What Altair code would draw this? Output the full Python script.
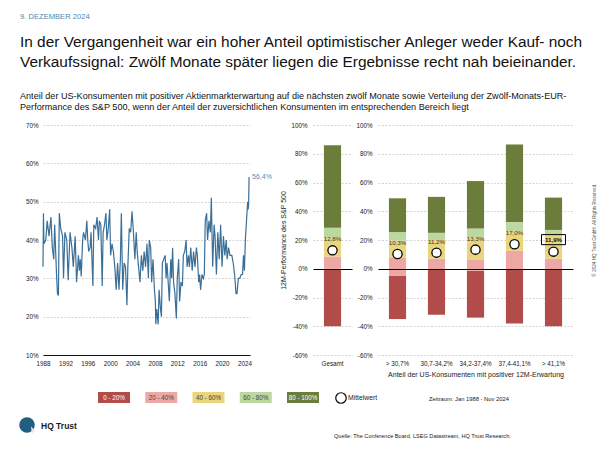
import altair as alt
import pandas as pd

FONT = "Liberation Sans"

# ---------------- data ----------------
line_months = [
    "1988-01", "1988-02", "1988-03", "1988-07", "1988-10", "1989-02", "1989-06", "1989-09", "1989-12",
    "1990-02", "1990-06", "1990-08", "1990-10", "1990-12", "1991-03", "1991-07", "1991-09", "1991-12",
    "1992-04", "1992-07", "1992-11", "1993-03", "1993-06", "1993-10", "1994-01", "1994-05", "1994-07",
    "1994-09", "1994-11", "1995-02", "1995-04", "1995-08", "1995-11", "1996-01", "1996-03", "1996-06",
    "1996-08", "1996-12", "1997-02", "1997-06", "1997-09", "1997-12", "1998-02", "1998-05", "1998-08",
    "1998-10", "1999-01", "1999-04", "1999-06", "1999-09", "1999-12", "2000-02", "2000-05", "2000-08",
    "2000-11", "2001-02", "2001-05", "2001-08", "2001-11", "2002-01", "2002-04", "2002-07", "2002-10",
    "2003-01", "2003-03", "2003-06", "2003-09", "2003-12", "2004-03", "2004-06", "2004-09", "2004-11",
    "2005-02", "2005-05", "2005-08", "2005-11", "2006-02", "2006-05", "2006-08", "2006-11", "2007-01",
    "2007-04", "2007-06", "2007-09", "2007-12", "2008-02", "2008-03", "2008-05", "2008-08", "2008-10",
    "2009-01", "2009-03", "2009-05", "2009-08", "2009-11", "2010-01", "2010-03", "2010-06", "2010-08",
    "2010-11", "2011-01", "2011-03", "2011-05", "2011-08", "2011-11", "2012-01", "2012-04", "2012-06",
    "2012-09", "2012-12", "2013-02", "2013-05", "2013-08", "2013-10", "2014-01", "2014-03", "2014-06",
    "2014-09", "2014-12", "2015-03", "2015-06", "2015-08", "2015-11", "2016-01", "2016-03", "2016-06",
    "2016-09", "2016-11", "2017-01", "2017-04", "2017-06", "2017-09", "2017-12", "2018-02", "2018-05",
    "2018-08", "2018-10", "2019-01", "2019-04", "2019-07", "2019-10", "2020-01", "2020-04", "2020-07",
    "2020-10", "2020-12", "2021-03", "2021-06", "2021-10", "2022-01", "2022-04", "2022-07", "2022-09",
    "2022-12", "2023-03", "2023-06", "2023-09", "2023-11", "2024-01", "2024-03", "2024-06", "2024-08",
    "2024-09", "2024-10", "2024-11",
]
line_values = [
    33, 47, 39, 40, 45, 41, 46, 38, 35,
    44, 31, 26, 25.5, 47, 43, 41, 30, 42,
    40, 29.5, 42, 38, 33, 41, 29, 36, 32,
    35, 30.5, 40, 42, 40, 45, 40, 37, 38,
    42, 28, 44, 43, 46, 40, 45, 44, 28,
    42, 44, 47, 40, 43, 48, 36, 39, 37,
    33, 27, 34, 27, 35, 47, 27, 34, 33,
    23, 33, 43, 42, 47.5, 42, 35, 42, 37,
    33, 29, 36, 32, 37, 33, 39, 30, 40,
    38, 29, 35, 27, 24, 18, 22, 18, 27,
    22, 20, 34, 35, 36, 30, 34, 28, 24,
    35, 30, 38, 29, 26, 19.5, 30, 35, 24,
    29, 28, 36, 37, 40, 33, 36, 33, 38,
    32, 37, 33, 38, 36, 29, 31, 27, 31,
    30, 31, 45, 47, 40, 45, 42, 51, 33,
    44, 41, 31, 42, 35, 44, 33, 41, 36,
    40, 35, 38, 36, 36, 34, 31, 26, 26,
    30, 30, 31, 31, 36, 32, 40, 46, 50,
    48, 49, 56.4,
]
year_ticks = [1988, 1992, 1996, 2000, 2004, 2008, 2012, 2016, 2020, 2024]
share_ticks = [10, 20, 30, 40, 50, 60, 70]

categories = ["Gesamt", "> 30,7%", "30,7-34,2%", "34,2-37,4%", "37,4-41,1%", "> 41,1%"]
perf_min = [-40, -35, -32, -34, -38, -40]
perf_q20 = [0, -5, -0.5, -1.5, -0.5, -0.5]
perf_q40 = [8.5, 7.5, 7, 6.5, 12.5, 7]
perf_q60 = [22, 19.5, 20, 22, 26, 23.5]
perf_q80 = [28.5, 25.5, 25, 28, 32.5, 27]
perf_max = [86, 49, 50, 61, 86.5, 49.5]
perf_mean = [12.8, 10.3, 11.2, 13.3, 17.0, 11.9]
highlight_category = "> 41,1%"
perf_ticks = [-60, -40, -20, 0, 20, 40, 60, 80, 100]

segment_labels = ["0 - 20%", "20 - 40%", "40 - 60%", "60 - 80%", "80 - 100%"]
segment_colors = ["#b24c4a", "#eda8a5", "#e8d57c", "#bcd8a0", "#6c7d3b"]


def de_pct(v):
    return f"{v:.1f}".replace(".", ",") + "%"


# ---------------- tables ----------------
line_df = pd.DataFrame({"month": line_months, "value": line_values})
line_df["t"] = line_df["month"].str[:4].astype(int) + (line_df["month"].str[5:].astype(int) - 1) / 12
line_df["label"] = line_df["value"].map(de_pct)

bounds = list(zip(perf_min, perf_q20, perf_q40, perf_q60, perf_q80, perf_max))
rows = []
for cat, b in zip(categories, bounds):
    for i, seg in enumerate(segment_labels):
        rows.append({"cat": cat, "seg": seg, "lo": b[i], "hi": b[i + 1]})
bar_df = pd.DataFrame(rows)
mean_df = pd.DataFrame({"cat": categories, "mean": perf_mean})
mean_df["label"] = mean_df["mean"].map(de_pct)
mean_df["hl"] = mean_df["cat"] == highlight_category

empty = pd.DataFrame({"k": [0]})
cscale = alt.Scale(domain=segment_labels, range=segment_colors)


def text(txt, x, y, size=7, color="#222", align="left", weight="normal", angle=0):
    return alt.Chart(empty).mark_text(
        text=txt, fontSize=size, color=color, align=align, fontWeight=weight,
        angle=angle, baseline="middle", font=FONT
    ).encode(x=alt.value(x), y=alt.value(y))


# ---------------- line panel ----------------
lxs = alt.Scale(domain=[1988, 2025], range=[43, 250], nice=False, zero=False)
lys = alt.Scale(domain=[10, 70], range=[355, 125], nice=False, zero=False)
line = alt.Chart(line_df).mark_line(color="#3a6f98", strokeWidth=1.2).encode(
    x=alt.X("t:Q", scale=lxs, axis=alt.Axis(
        orient="bottom", offset=-95, values=year_ticks, format="d", domainColor="#111",
        domainWidth=1.2, ticks=False, labelPadding=5, grid=False, title=None, labelFlush=False)),
    y=alt.Y("value:Q", scale=lys, axis=alt.Axis(
        orient="left", offset=-43, values=share_ticks, labelExpr="datum.value + '%'",
        domain=False, ticks=False, labelPadding=5, grid=True, gridColor="#c4c4c4",
        gridDash=[2, 1.5], gridWidth=0.7, title=None)),
)
last_lbl = alt.Chart(line_df.tail(1)).mark_text(
    align="left", dx=3, fontSize=7, color="#5b8db5", font=FONT
).encode(
    x=alt.X("t:Q", scale=lxs, axis=None),
    y=alt.Y("value:Q", scale=lys, axis=None),
    text="label:N",
)
line_panel = alt.layer(line, last_lbl).resolve_axis(x="independent", y="independent")

# ---------------- bar panels ----------------
pys = alt.Scale(domain=[-60, 100], range=[355, 125], nice=False, zero=False)


def bar_panel(cats, x_range, y_pos, y_title, x_title):
    sub_bar = bar_df[bar_df["cat"].isin(cats)]
    sub_mean = mean_df[mean_df["cat"].isin(cats)]
    xs = alt.Scale(domain=cats, range=x_range, paddingInner=0.56, paddingOuter=0.28)
    x_axis = alt.Axis(orient="bottom", offset=-95, domain=False, ticks=False, labelPadding=5,
                      labelAngle=0, title=x_title, titlePadding=4, grid=False)
    y_axis = alt.Axis(orient="left", offset=-y_pos, values=perf_ticks,
                      labelExpr="datum.value + '%'", domain=False, ticks=False, labelPadding=6,
                      grid=True, gridColor="#c4c4c4", gridDash=[2, 1.5], gridWidth=0.7,
                      title=y_title, titlePadding=4)
    zero_axis = alt.Axis(orient="left", offset=-y_pos, values=[0], labels=False, domain=False,
                         ticks=False, grid=True, gridColor="#000", gridWidth=1.1, title=None,
                         zindex=1)
    bars = alt.Chart(sub_bar).mark_bar().encode(
        x=alt.X("cat:N", scale=xs, axis=x_axis),
        y=alt.Y("lo:Q", scale=pys, axis=y_axis),
        y2="hi:Q",
        color=alt.Color("seg:N", scale=cscale, legend=None),
    )
    pts = alt.Chart(sub_mean).mark_point(
        shape="circle", size=85, filled=True, fill="white", stroke="black",
        strokeWidth=1.3, opacity=1
    ).encode(
        x=alt.X("cat:N", scale=xs, axis=None),
        y=alt.Y("mean:Q", scale=pys, axis=zero_axis),
    )
    lbl = alt.Chart(sub_mean).transform_filter("!datum.hl").mark_text(
        dy=-11, fontSize=6.2, color="#333", font=FONT
    ).encode(
        x=alt.X("cat:N", scale=xs, axis=None),
        y=alt.Y("mean:Q", scale=pys, axis=None),
        text="label:N",
    )
    hl_lbl = alt.Chart(sub_mean).transform_filter("datum.hl").mark_text(
        dy=-12, fontSize=6.2, color="#111", fontWeight="bold", font=FONT
    ).encode(
        x=alt.X("cat:N", scale=xs, axis=None),
        y=alt.Y("mean:Q", scale=pys, axis=None),
        text="label:N",
    )
    hl_box = alt.Chart(sub_mean).transform_filter("datum.hl").mark_point(
        shape="M-1,-1.42 L1,-1.42 L1,-0.58 L-1,-0.58 Z", size=576, filled=False,
        color="black", strokeWidth=1, opacity=1
    ).encode(
        x=alt.X("cat:N", scale=xs, axis=None),
        y=alt.Y("mean:Q", scale=pys, axis=None),
    )
    return alt.layer(bars, pts, lbl, hl_lbl, hl_box).resolve_axis(x="independent", y="independent")


gesamt_panel = bar_panel(["Gesamt"], [313, 352], 313, "12M-Performance des S&P 500", None)
range_panel = bar_panel(categories[1:], [378, 573], 378, None,
                        "Anteil der US-Konsumenten mit positiver 12M-Erwartung")

# ---------------- legend ----------------
legend_df = pd.DataFrame({"seg": segment_labels})
lgx = alt.X("seg:N", scale=alt.Scale(domain=segment_labels, range=[98, 319],
                                       paddingInner=0.323, paddingOuter=0), axis=None)
legend_rect = alt.Chart(legend_df).mark_rect().encode(
    x=lgx, y=alt.value(392), y2=alt.value(403),
    color=alt.Color("seg:N", scale=cscale, legend=None),
)
legend_txt = alt.Chart(legend_df).mark_text(fontSize=6.3, font=FONT).encode(
    x=lgx, y=alt.value(397.5), text="seg:N",
    color=alt.condition("datum.seg == '0 - 20%' || datum.seg == '80 - 100%'",
                        alt.value("white"), alt.value("#444")),
)
legend_panel = alt.layer(legend_rect, legend_txt).resolve_axis(x="independent", y="independent")

mean_key = alt.Chart(empty).mark_point(
    shape="circle", size=110, filled=False, color="black", strokeWidth=1.2, opacity=1
).encode(x=alt.value(341), y=alt.value(398))

logo_outer = alt.Chart(empty).mark_point(
    shape="circle", size=240, filled=True, color="#215f80", opacity=1
).encode(x=alt.value(27), y=alt.value(425))
logo_inner = alt.Chart(empty).mark_point(
    shape="M0,-1 L1,0.2 L0.2,1 Z", size=60, filled=True, color="#dfe9ef", opacity=1
).encode(x=alt.value(31), y=alt.value(430))

texts = [
    text("9. DEZEMBER 2024", 20, 17, size=7.6, color="#4f86ad"),
    text("In der Vergangenheit war ein hoher Anteil optimistischer Anleger weder Kauf- noch",
         20, 42, size=15.4, color="#111"),
    text("Verkaufssignal: Zwölf Monate später liegen die Ergebnisse recht nah beieinander.",
         20, 62, size=15.4, color="#111"),
    text("Anteil der US-Konsumenten mit positiver Aktienmarkterwartung auf die nächsten zwölf "
         "Monate sowie Verteilung der Zwölf-Monats-EUR-", 20, 96, size=9.1, color="#111"),
    text("Performance des S&P 500, wenn der Anteil der zuversichtlichen Konsumenten im "
         "entsprechenden Bereich liegt", 20, 107, size=9.1, color="#111"),
    text("Mittelwert", 348, 398, size=6.8),
    text("Zeitraum: Jan 1988 - Nov 2024", 429, 399, size=5.8),
    text("HQ Trust", 41, 426, size=8.5, weight="bold", color="#1a1a1a"),
    text("Quelle: The Conference Board, LSEG Datastream, HQ Trust Research.", 334, 436, size=5.6),
    text("© 2024 HQ Trust GmbH. All Rights Reserved.", 595, 230, size=4.6, color="#555",
         align="center", angle=270),
]

chart = alt.layer(
    line_panel, gesamt_panel, range_panel, legend_panel, mean_key, logo_outer, logo_inner, *texts
).resolve_scale(x="independent", y="independent").properties(
    width=600, height=450, autosize=alt.AutoSizeParams(type="none"), padding=0,
    background="white",
).configure_view(strokeWidth=0).configure_axis(
    labelFont=FONT, titleFont=FONT, labelFontSize=6.3, labelColor="#222", titleColor="#222",
    titleFontWeight="normal", titleFontSize=7
)

chart.save("out.html", embed_options={"renderer": "svg", "actions": False})
